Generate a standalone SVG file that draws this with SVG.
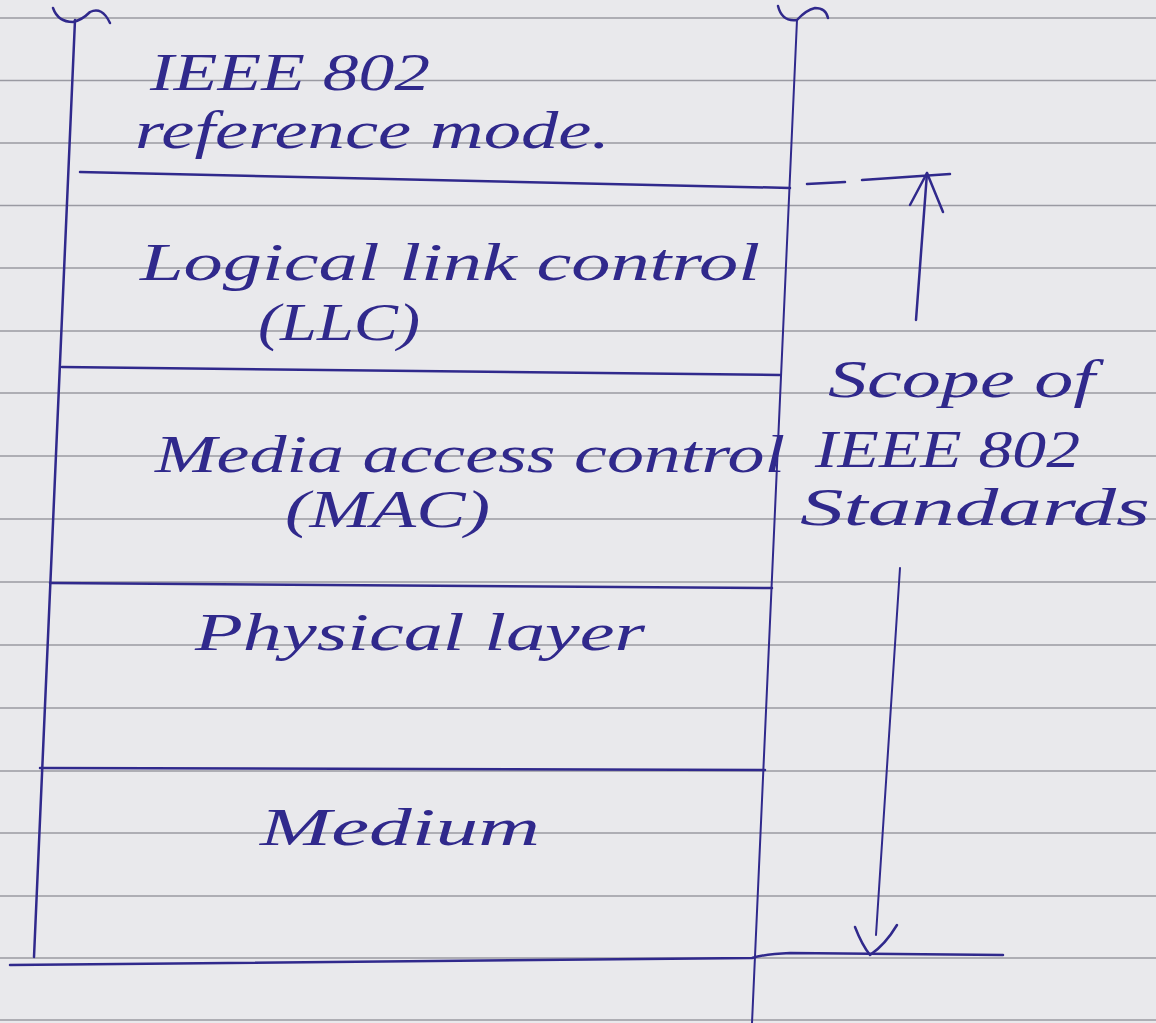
<svg xmlns="http://www.w3.org/2000/svg" width="1156" height="1023" viewBox="0 0 1156 1023">
<defs>
<style>
.paper{fill:#e9e9ec}
.rule{stroke:#9a9aa2;stroke-width:1.3;fill:none}
.ink{stroke:#30298c;stroke-width:2.5;fill:none;stroke-linecap:round;stroke-linejoin:round}
.txt{font-family:"Liberation Serif",serif;font-style:italic;font-size:52px;fill:#30298c}
</style>
</defs>
<rect class="paper" x="0" y="0" width="1156" height="1023"/>
<g id="paper-rules">
<line class="rule" x1="0" y1="18" x2="1156" y2="18"/>
<line class="rule" x1="0" y1="80.5" x2="1156" y2="80.5"/>
<line class="rule" x1="0" y1="143" x2="1156" y2="143"/>
<line class="rule" x1="0" y1="205.5" x2="1156" y2="205.5"/>
<line class="rule" x1="0" y1="268" x2="1156" y2="268"/>
<line class="rule" x1="0" y1="331" x2="1156" y2="331"/>
<line class="rule" x1="0" y1="393" x2="1156" y2="393"/>
<line class="rule" x1="0" y1="456" x2="1156" y2="456"/>
<line class="rule" x1="0" y1="519" x2="1156" y2="519"/>
<line class="rule" x1="0" y1="582" x2="1156" y2="582"/>
<line class="rule" x1="0" y1="645" x2="1156" y2="645"/>
<line class="rule" x1="0" y1="708" x2="1156" y2="708"/>
<line class="rule" x1="0" y1="771" x2="1156" y2="771"/>
<line class="rule" x1="0" y1="833" x2="1156" y2="833"/>
<line class="rule" x1="0" y1="896" x2="1156" y2="896"/>
<line class="rule" x1="0" y1="958" x2="1156" y2="958"/>
<line class="rule" x1="0" y1="1020" x2="1156" y2="1020"/>
</g>
<g id="stack-frame">
<path class="ink" d="M53,8 Q58,22 73,22 Q82,20 90,12 Q102,6 110,23"/>
<path class="ink" d="M75,20 L34,957"/>
<path class="ink" d="M778,6 Q782,22 797,20 Q806,10 815,8 Q826,8 828,18"/>
<path class="ink" d="M797,20 L752,1023" style="stroke-width:2"/>
<path class="ink" d="M10,965 L752,958 Q765,954 790,953 L1003,955"/>
</g>
<g id="layer-title">
<text class="txt" x="150" y="90" textLength="280" lengthAdjust="spacingAndGlyphs">IEEE 802</text>
<text class="txt" x="135" y="148" textLength="475" lengthAdjust="spacingAndGlyphs">reference mode.</text>
</g>
<g id="dividers">
<path class="ink" d="M80,172 L790,188"/>
<path class="ink" d="M62,367 L780,375"/>
<path class="ink" d="M50,583 L772,588"/>
<path class="ink" d="M40,768 L765,770"/>
</g>
<g id="layer-llc">
<text class="txt" x="140" y="280" textLength="620" lengthAdjust="spacingAndGlyphs">Logical link control</text>
<text class="txt" x="258" y="340" textLength="162" lengthAdjust="spacingAndGlyphs">(LLC)</text>
</g>
<g id="layer-mac">
<text class="txt" x="155" y="472" textLength="630" lengthAdjust="spacingAndGlyphs">Media access control</text>
<text class="txt" x="285" y="527" textLength="205" lengthAdjust="spacingAndGlyphs">(MAC)</text>
</g>
<g id="layer-physical">
<text class="txt" x="195" y="650" textLength="450" lengthAdjust="spacingAndGlyphs">Physical layer</text>
</g>
<g id="layer-medium">
<text class="txt" x="260" y="845" textLength="280" lengthAdjust="spacingAndGlyphs">Medium</text>
</g>
<g id="scope-label">
<text class="txt" x="828" y="397" textLength="267" lengthAdjust="spacingAndGlyphs">Scope of</text>
<text class="txt" x="815" y="467" textLength="265" lengthAdjust="spacingAndGlyphs">IEEE 802</text>
<text class="txt" x="800" y="525" textLength="350" lengthAdjust="spacingAndGlyphs">Standards</text>
</g>
<g id="connectors">
<path class="ink" d="M807,184 L845,182"/>
<path class="ink" d="M862,180 L950,174"/>
<path class="ink" d="M916,320 L927,173"/>
<path class="ink" d="M910,205 L927,173 L943,212"/>
<path class="ink" d="M900,568 L876,935" style="stroke-width:2"/>
<path class="ink" d="M855,927 Q862,945 870,955 Q885,945 897,925"/>
</g>
</svg>
